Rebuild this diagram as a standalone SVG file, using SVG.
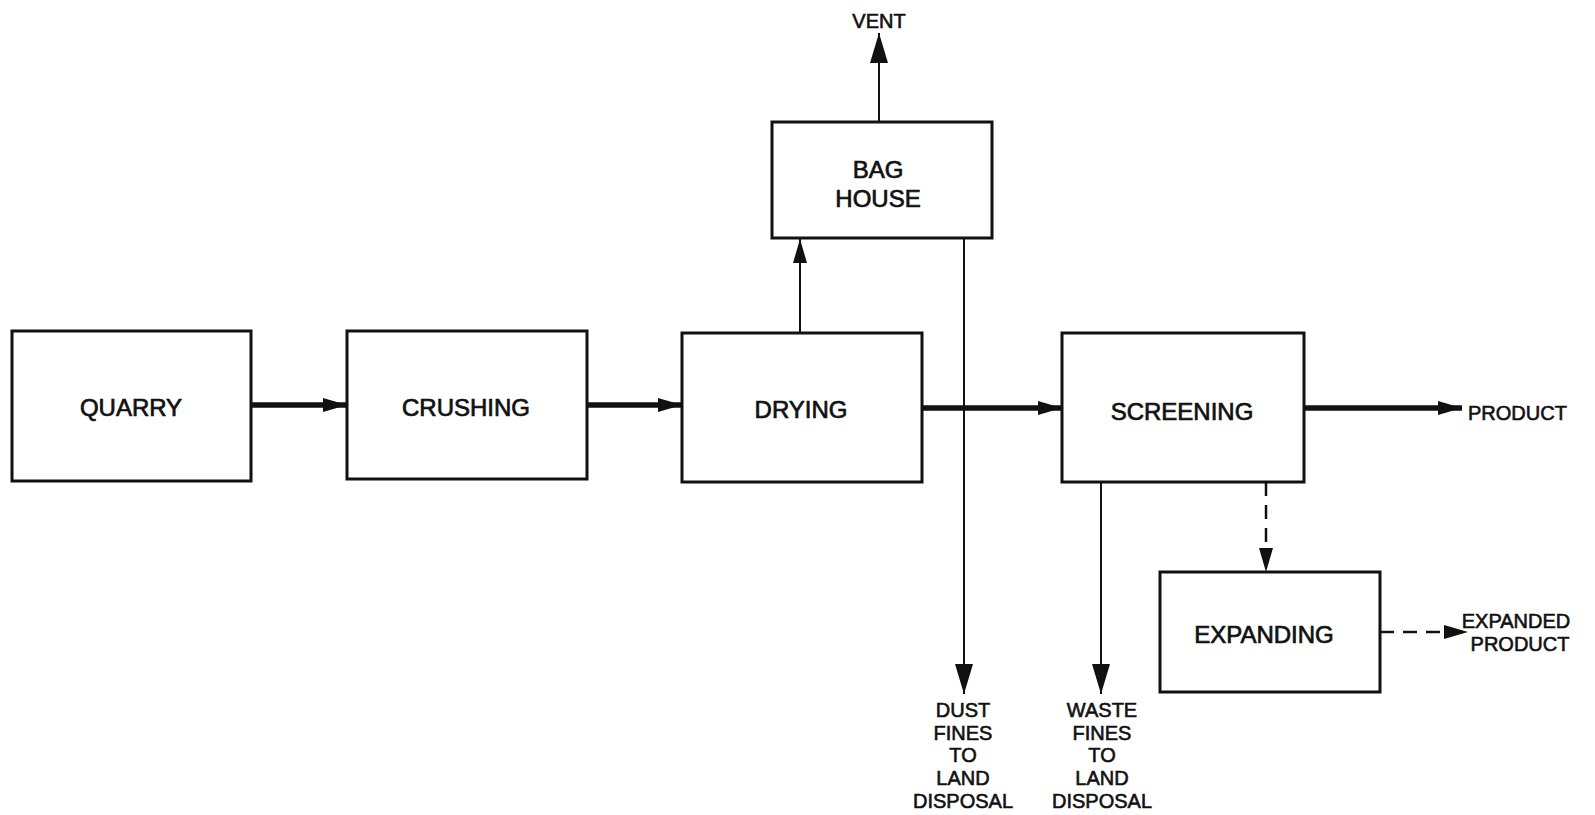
<svg xmlns="http://www.w3.org/2000/svg" width="1595" height="815" viewBox="0 0 1595 815">
<style>
.box{fill:#fff;stroke:#111;stroke-width:3}
.lbl{font-family:"Liberation Sans",Arial,sans-serif;font-size:24px;fill:#111;stroke:#111;stroke-width:0.7;text-anchor:middle}
.sm{font-family:"Liberation Sans",Arial,sans-serif;font-size:20px;fill:#111;stroke:#111;stroke-width:0.6;text-anchor:middle}
.thick{stroke:#111;stroke-width:5.5;fill:none}
.thin{stroke:#111;stroke-width:2;fill:none}
.dash{stroke:#111;stroke-width:2.5;fill:none;stroke-dasharray:14 9}
</style>
<defs>
<marker id="ah" markerUnits="userSpaceOnUse" markerWidth="26" markerHeight="18" refX="24" refY="9" orient="auto">
<path d="M0,2 L24,9 L0,16 Q-2,9 0,2 Z" fill="#111"/>
</marker>
<marker id="ahl" markerUnits="userSpaceOnUse" markerWidth="32" markerHeight="20" refX="30" refY="10" orient="auto">
<path d="M0,1 L30,10 L0,19 Q-3,10 0,1 Z" fill="#111"/>
</marker>
</defs>
<rect width="1595" height="815" fill="#fff"/>
<g id="connectors">
<line class="thick" x1="250" y1="405" x2="347" y2="405" marker-end="url(#ah)"/>
<line class="thick" x1="586" y1="405" x2="682" y2="405" marker-end="url(#ah)"/>
<line class="thick" x1="921" y1="408" x2="1062" y2="408" marker-end="url(#ah)"/>
<line class="thick" x1="1304" y1="408" x2="1462" y2="408" marker-end="url(#ah)"/>
<line class="thin" x1="800" y1="333" x2="800" y2="239" marker-end="url(#ah)"/>
<line class="thin" x1="879" y1="122" x2="879" y2="33" marker-end="url(#ahl)"/>
<line class="thin" x1="964" y1="238" x2="964" y2="694" marker-end="url(#ahl)"/>
<line class="thin" x1="1101" y1="482" x2="1101" y2="694" marker-end="url(#ahl)"/>
<line class="dash" x1="1266" y1="482" x2="1266" y2="572" marker-end="url(#ah)"/>
<line class="dash" x1="1380" y1="632" x2="1468" y2="632" marker-end="url(#ah)"/>
</g>
<g id="quarry">
<rect class="box" x="12" y="331" width="239" height="150"/>
<text class="lbl" x="131" y="416">QUARRY</text>
</g>
<g id="crushing">
<rect class="box" x="347" y="331" width="240" height="148"/>
<text class="lbl" x="466" y="416">CRUSHING</text>
</g>
<g id="drying">
<rect class="box" x="682" y="333" width="240" height="149"/>
<text class="lbl" x="801" y="418">DRYING</text>
</g>
<g id="screening">
<rect class="box" x="1062" y="333" width="242" height="149"/>
<text class="lbl" x="1182" y="420">SCREENING</text>
</g>
<g id="baghouse">
<rect class="box" x="772" y="122" width="220" height="116"/>
<text class="lbl" x="878" y="178">BAG</text>
<text class="lbl" x="878" y="207">HOUSE</text>
</g>
<g id="expanding">
<rect class="box" x="1160" y="572" width="220" height="120"/>
<text class="lbl" x="1264" y="643">EXPANDING</text>
</g>
<g id="vent">
<text class="sm" x="879" y="28">VENT</text>
</g>
<g id="product">
<text class="sm" x="1468" y="420" style="text-anchor:start">PRODUCT</text>
</g>
<g id="expanded-product">
<text class="sm" x="1516" y="628">EXPANDED</text>
<text class="sm" x="1520" y="651">PRODUCT</text>
</g>
<g id="dust-fines">
<text class="sm" x="963" y="717">DUST</text>
<text class="sm" x="963" y="740">FINES</text>
<text class="sm" x="963" y="762">TO</text>
<text class="sm" x="963" y="785">LAND</text>
<text class="sm" x="963" y="808">DISPOSAL</text>
</g>
<g id="waste-fines">
<text class="sm" x="1102" y="717">WASTE</text>
<text class="sm" x="1102" y="740">FINES</text>
<text class="sm" x="1102" y="762">TO</text>
<text class="sm" x="1102" y="785">LAND</text>
<text class="sm" x="1102" y="808">DISPOSAL</text>
</g>
</svg>
